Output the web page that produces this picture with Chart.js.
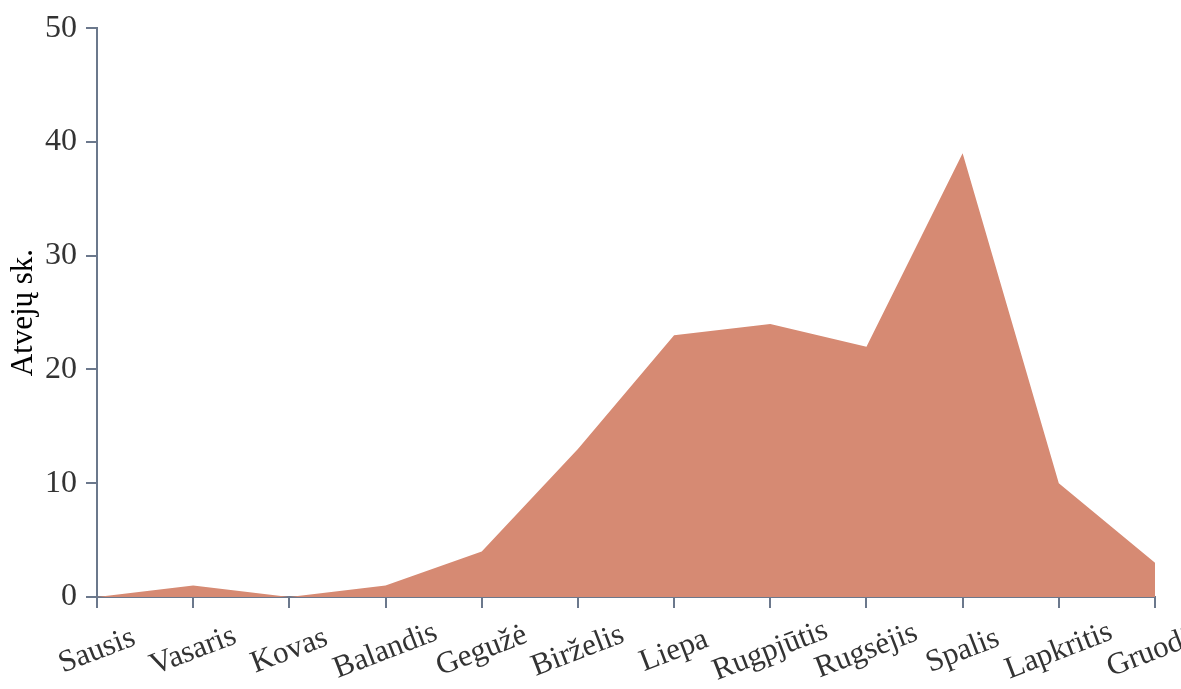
<!DOCTYPE html>
<html>
<head>
<meta charset="utf-8">
<script src="https://cdn.jsdelivr.net/npm/chart.js@4"></script>
<style>
  html, body { margin: 0; padding: 0; background: #fff; }
  #wrap { width: 1181px; height: 689px; }
</style>
</head>
<body>
<div id="wrap"><canvas id="area-chart" width="1181" height="689"></canvas></div>
<script>
// --- DATA ---
const months = ['Sausis', 'Vasaris', 'Kovas', 'Balandis', 'Gegužė', 'Birželis', 'Liepa',
                'Rugpjūtis', 'Rugsėjis', 'Spalis', 'Lapkritis', 'Gruodis'];
const caseCounts = [0, 1, 0, 1, 4, 13, 23, 24, 22, 39, 10, 3];
const yTicks = [0, 10, 20, 30, 40, 50];
const yTitle = 'Atvejų sk.';

// --- STYLE ---
const FONT = '"Liberation Serif", "Times New Roman", serif';
const AXIS_COLOR = '#6b788c';
const TEXT_COLOR = '#333333';
const FILL_COLOR = '#d68a73';

// x labels are centred on the tick and turned, Chart.js would right-align them
const rotatedLabels = {
    id: 'rotatedLabels',
    afterDraw(chart) {
        const ctx = chart.ctx;
        const xScale = chart.scales.x;
        ctx.save();
        ctx.font = '31px ' + FONT;
        ctx.fillStyle = TEXT_COLOR;
        ctx.textAlign = 'center';
        ctx.textBaseline = 'middle';
        months.forEach((label, i) => {
            const x = xScale.getPixelForTick(i);
            ctx.save();
            ctx.translate(x, xScale.top + 54);
            ctx.rotate(-21 * Math.PI / 180);
            ctx.fillText(label, 0, 0);
            ctx.restore();
        });
        ctx.restore();
    }
};

new Chart(document.getElementById('area-chart'), {
    type: 'line',
    data: {
        labels: months,
        datasets: [{
            data: caseCounts,
            fill: 'origin',
            backgroundColor: FILL_COLOR,
            borderWidth: 0,
            pointRadius: 0,
            tension: 0
        }]
    },
    options: {
        responsive: false,
        animation: false,
        layout: { padding: { top: 25, right: 26, left: 0, bottom: 0 } },
        plugins: { legend: { display: false }, tooltip: { enabled: false } },
        scales: {
            x: {
                offset: false,
                grid: { drawOnChartArea: false, color: AXIS_COLOR, tickLength: 11, lineWidth: 2 },
                border: { color: AXIS_COLOR, width: 2 },
                ticks: { display: false },
                afterFit(scale) { scale.height = 92; }
            },
            y: {
                min: 0,
                max: 50,
                afterBuildTicks(scale) { scale.ticks = yTicks.map(v => ({ value: v })); },
                grid: { drawOnChartArea: false, color: AXIS_COLOR, tickLength: 11, lineWidth: 2 },
                border: { color: AXIS_COLOR, width: 2 },
                ticks: { color: TEXT_COLOR, padding: 9, font: { family: FONT, size: 32 } },
                title: {
                    display: true,
                    text: yTitle,
                    color: '#000',
                    padding: { top: 5, bottom: 0 },
                    font: { family: FONT, size: 31 }
                },
                afterFit(scale) { scale.width = 97; }
            }
        }
    },
    plugins: [rotatedLabels]
});
</script>
</body>
</html>
